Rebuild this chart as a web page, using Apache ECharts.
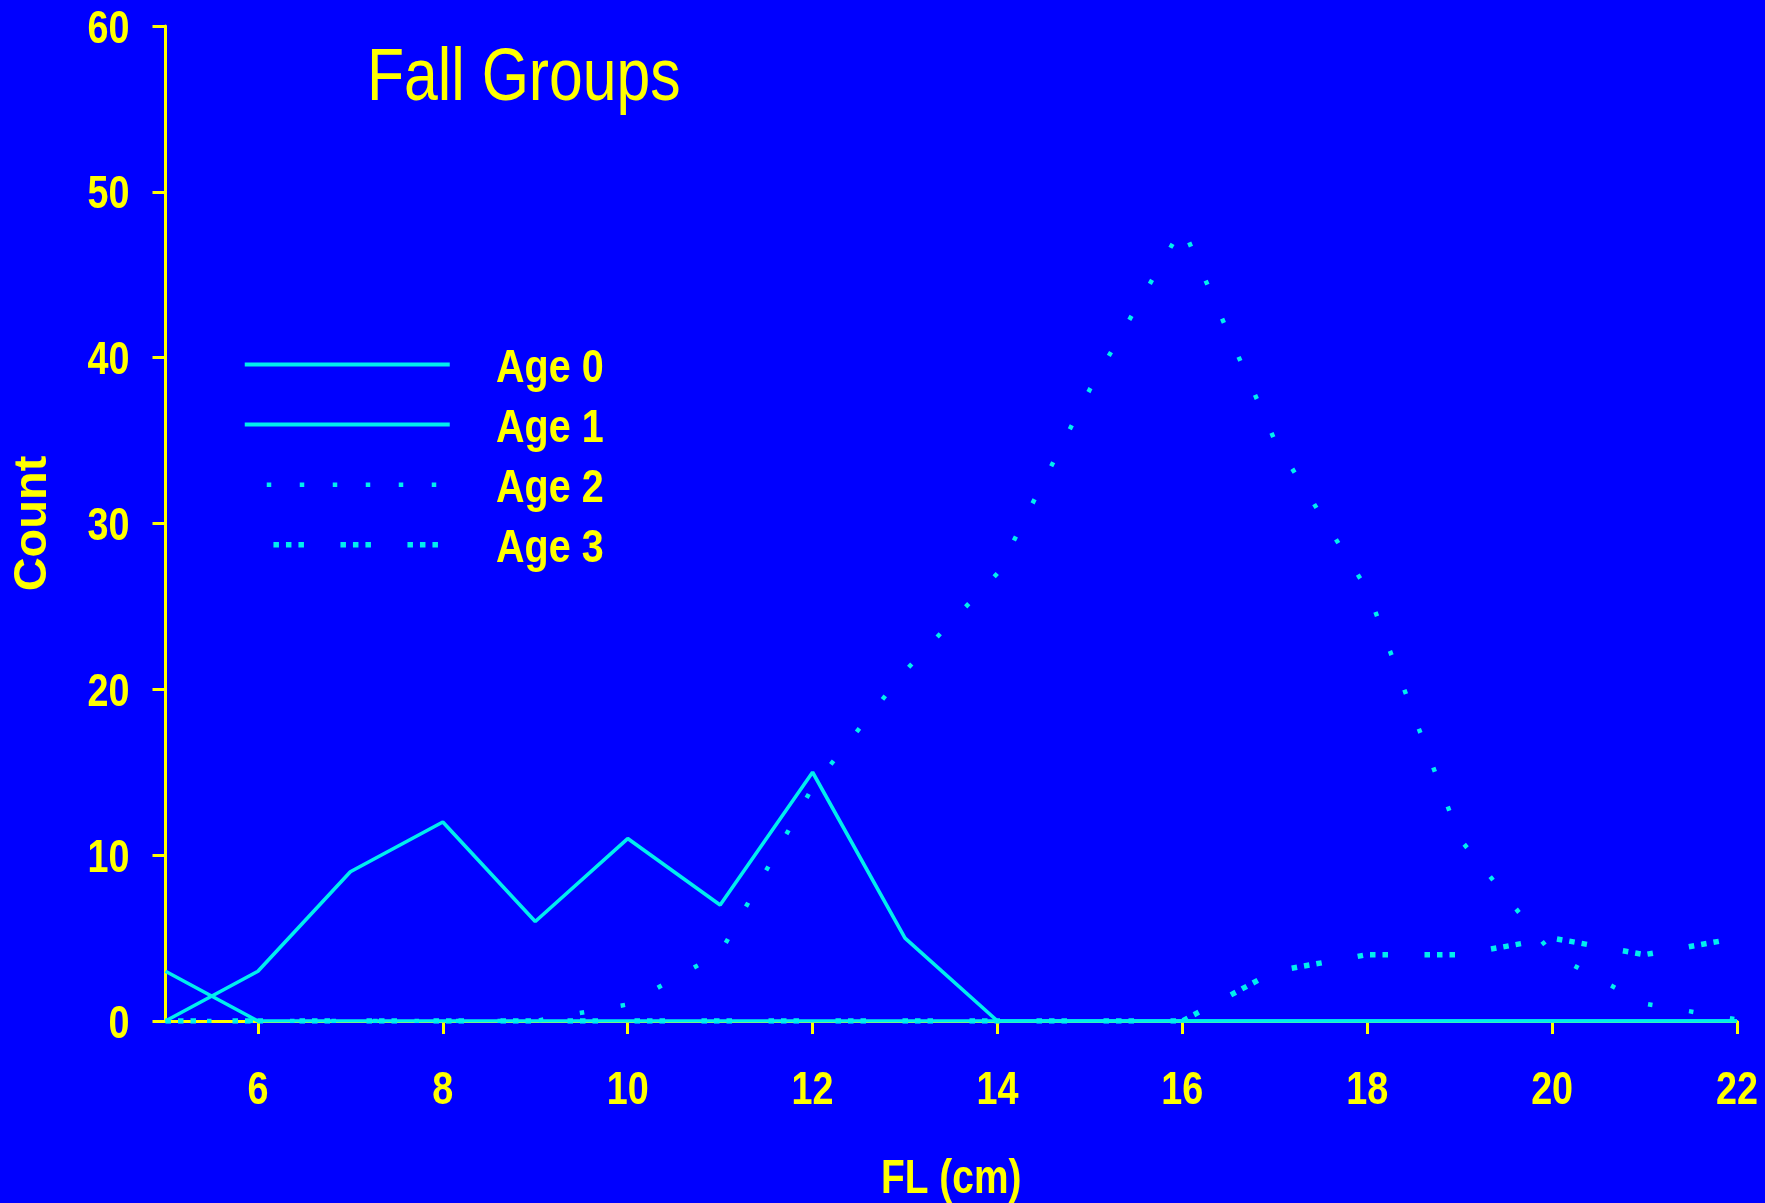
<!DOCTYPE html>
<html>
<head>
<meta charset="utf-8">
<script src="https://cdn.jsdelivr.net/npm/echarts@6/dist/echarts.min.js"></script>
<style>
  html, body { margin: 0; padding: 0; background: #0000ff; }
  #main { width: 1765px; height: 1203px; }
</style>
</head>
<body>
<div id="main"></div>
<script>
// fork length classes (cm)
var lengths = [5, 6, 7, 8, 9, 10, 11, 12, 13, 14, 15, 16, 17, 18, 19, 20, 21, 22];
// counts per age group
var age0 = [3, 0, 0, 0, 0, 0, 0, 0, 0, 0, 0, 0, 0, 0, 0, 0, 0, 0];
var age1 = [0, 3, 9, 12, 6, 11, 7, 15, 5, 0, 0, 0, 0, 0, 0, 0, 0, 0];
var age2 = [0, 0, 0, 0, 0, 1, 4.1, 14.1, 21.1, 27, 38.1, 47.9, 35, 26, 11, 4.05, 1.05, 0.1];
var age3 = [0, 0, 0, 0, 0, 0, 0, 0, 0, 0, 0, 0, 3, 4, 4, 5, 4, 5];
var xTicks = [6, 8, 10, 12, 14, 16, 18, 20, 22];
var yTicks = [0, 10, 20, 30, 40, 50, 60];
var seriesNames = ['Age 0', 'Age 1', 'Age 2', 'Age 3'];

var YELLOW = '#ffff00';
var CYAN = '#00eeee';
var SANS = "'Liberation Sans', Arial, sans-serif";

function pairs(vals) {
    var out = [];
    for (var i = 0; i < lengths.length; i++) {
        out.push([lengths[i], vals[i]]);
    }
    return out;
}

// the original uses a condensed face; no narrow font here, so squeeze the text
// y is where the middle of the capitals should sit
function narrowText(str, x, y, align, size, weight, squeeze) {
    return {
        type: 'text',
        x: x,
        y: y + 0.085 * size,
        scaleX: squeeze || 0.82,
        silent: true,
        z: 10,
        style: {
            text: str,
            x: 0,
            y: 0,
            align: align,
            verticalAlign: 'middle',
            font: weight + ' ' + size + 'px ' + SANS,
            fill: YELLOW
        }
    };
}

// line styles (dots of Age 2, triple dots of Age 3)
var styles = [
    { width: 3.6, type: 'solid' },
    { width: 3.6, type: 'solid' },
    { width: 4.5, type: [4.5, 37] },
    { width: 5.5, type: [5.5, 7, 5.5, 7, 5.5, 36.5] }
];
var legendStyles = [
    { width: 4, type: 'solid' },
    { width: 4, type: 'solid' },
    { width: 4.5, type: [4.5, 28.5], dashOffset: 11 },
    { width: 5.5, type: [5.5, 7, 5.5, 7, 5.5, 36.5], dashOffset: 38.3 }
];
var allData = [age0, age1, age2, age3];

var chart = echarts.init(document.getElementById('main'));

var series = [];
var legendData = [];
for (var i = 0; i < seriesNames.length; i++) {
    series.push({
        name: seriesNames[i],
        type: 'line',
        data: pairs(allData[i]),
        symbol: 'none',
        z: i < 2 ? 4 : 3,
        color: CYAN,
        lineStyle: {
            color: CYAN,
            width: styles[i].width,
            type: styles[i].type,
            cap: 'butt'
        }
    });
    legendData.push({
        name: seriesNames[i],
        itemStyle: { opacity: 0 },
        lineStyle: {
            color: CYAN,
            width: legendStyles[i].width,
            type: legendStyles[i].type,
            dashOffset: legendStyles[i].dashOffset || 0,
            cap: 'butt'
        }
    });
}

var option = {
    backgroundColor: '#0000ff',
    animation: false,
    legend: {
        data: legendData,
        orient: 'vertical',
        left: 242,
        top: 356.5,
        padding: 0,
        itemWidth: 205,
        itemHeight: 20,
        itemGap: 44.1,
        itemStyle: { opacity: 0 },
        formatter: function () { return ''; },
        textStyle: { fontSize: 1, lineHeight: 1 }
    },
    grid: {
        left: 165.5,
        right: 28,
        top: 26,
        bottom: 182
    },
    xAxis: {
        type: 'value',
        min: 5,
        max: 22,
        axisLine: { onZero: false, lineStyle: { color: YELLOW, width: 3 } },
        axisTick: {
            show: true,
            customValues: xTicks,
            length: 13,
            lineStyle: { color: YELLOW, width: 3 }
        },
        axisLabel: { show: false },
        splitLine: { show: false }
    },
    yAxis: {
        type: 'value',
        min: 0,
        max: 60,
        interval: 10,
        name: 'Count',
        nameLocation: 'middle',
        nameGap: 109,
        nameTextStyle: {
            color: YELLOW,
            fontFamily: SANS,
            fontWeight: 'bold',
            fontSize: 47
        },
        axisLine: { show: true, lineStyle: { color: YELLOW, width: 3 } },
        axisTick: {
            show: true,
            length: 13,
            lineStyle: { color: YELLOW, width: 3 }
        },
        axisLabel: { show: false },
        splitLine: { show: false }
    },
    series: series
};

chart.setOption(option);

// tick labels, placed through the chart's own axes
var texts = [];
yTicks.forEach(function (v) {
    var p = chart.convertToPixel({ gridIndex: 0 }, [5, v]);
    texts.push(narrowText(String(v), p[0] - 36, p[1], 'right', 46, 'bold'));
});
xTicks.forEach(function (v) {
    var p = chart.convertToPixel({ gridIndex: 0 }, [v, 0]);
    texts.push(narrowText(String(v), p[0], p[1] + 66, 'center', 46, 'bold'));
});
var mid = chart.convertToPixel({ gridIndex: 0 }, [13.5, 0]);
texts.push(narrowText('FL (cm)', mid[0], mid[1] + 155, 'center', 48, 'bold', 0.81));
texts.push(narrowText('Fall Groups', 367, 73.4, 'left', 74, 'normal', 0.82));
// legend labels next to the legend's line icons
for (var k = 0; k < seriesNames.length; k++) {
    texts.push(narrowText(seriesNames[k], 496, 365 + k * 60.2, 'left', 46.5, 'bold', 0.85));
}

chart.setOption({ graphic: { elements: texts } });
</script>
</body>
</html>
